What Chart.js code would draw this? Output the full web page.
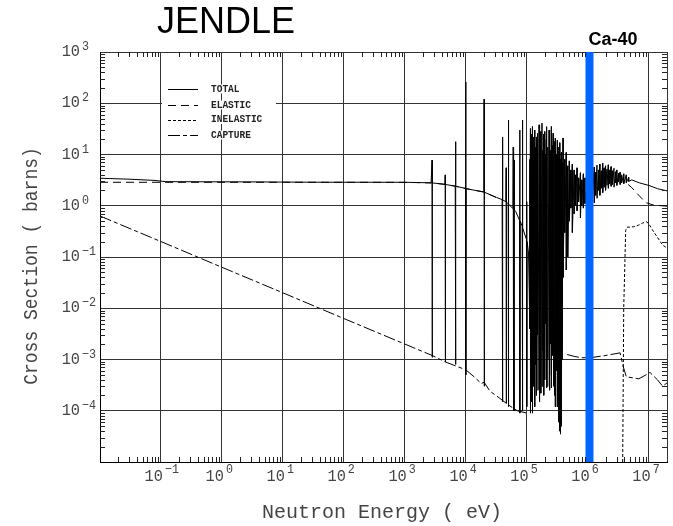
<!DOCTYPE html>
<html>
<head>
<meta charset="utf-8">
<script src="https://cdn.jsdelivr.net/npm/chart.js@4.4.1/dist/chart.umd.min.js"></script>
<style>
body { margin: 0; background: #fff; }
#wrap { width: 673px; height: 526px; }
</style>
</head>
<body>
<div id="wrap"><canvas id="chart-jendle" width="673" height="526"></canvas></div>
<script>
// series names (legend)
const seriesNames = ["TOTAL", "ELASTIC", "INELASTIC", "CAPTURE"];

// axis tick exponents (labels are 10^n)
const xTickExp = [-1, 0, 1, 2, 3, 4, 5, 6, 7];
const yTickExp = [3, 2, 1, 0, -1, -2, -3, -4];

// Ca-40 marker energy (eV)
const markerEnergy = [1.07e6];

// [energy eV, cross section barns]
const totalPts = [
	[0.01, 3.44], [0.03, 3.3], [0.08, 3.12], [0.12, 2.95], [3, 2.92], [30, 2.88], [1000, 2.87], [2700, 2.8],
	[2800, 7.8], [2812, 1.1e-3], [2840, 2.79],
	[4550, 2.62], [4600, 4.0], [4615, 9e-4], [4660, 2.6],
	[6720, 2.42], [6800, 17.8], [6825, 8e-4], [6880, 2.4],
	[9900, 2.18], [10000, 260], [10040, 5e-4], [10150, 2.15],
	[19800, 1.86], [20000, 120], [20080, 3e-4], [20300, 1.84],
	[32000, 1.45],
	[39500, 1.32], [40000, 22], [40150, 1.5e-4], [40600, 1.3],
	[45500, 1.2], [46000, 5.5], [46150, 1.4e-4], [46600, 1.17],
	[49600, 1.1], [50000, 47], [50200, 1.2e-4], [50700, 1.08],
	[59400, 0.88], [60000, 14], [60200, 1e-4], [60800, 0.87],
	[61600, 0.85], [62000, 7.8], [62200, 1e-4], [62700, 0.83],
	[66000, 0.77],
	[76300, 0.52], [77000, 30], [77300, 9e-5], [78000, 0.5],
	[84200, 0.4], [85000, 47], [85300, 1e-4], [86200, 0.37],
	[99000, 0.22], [100000, 1.2], [100300, 1.2e-4], [101500, 0.2],
	[107000, 0.12], [110000, 0.02],
	[112000, 8], [112300, 4e-3], [115000, 32], [115300, 9e-5],
	[118000, 12], [118300, 1e-3], [121000, 25], [121300, 1.5e-4],
	[124000, 35], [124300, 9e-5], [127000, 10], [127300, 2e-3],
	[131000, 22], [131300, 3e-4], [135000, 30], [135300, 1.2e-4],
	[139000, 14], [139300, 8e-4], [144000, 22], [144300, 2e-4],
	[148000, 9], [148300, 3e-3], [153000, 26], [153300, 2.5e-4],
	[159000, 38], [159300, 1.5e-4], [164000, 15], [164300, 6e-4],
	[170000, 28], [170300, 2.2e-4], [178000, 41], [178300, 3e-4],
	[183000, 12], [183300, 1.5e-3], [190000, 25], [190300, 2e-4],
	[197000, 28], [197300, 4e-4], [203000, 10], [203300, 5e-3],
	[209000, 20], [209300, 2.8e-4], [215000, 35], [215300, 3e-4],
	[222000, 14], [222300, 1e-3], [232000, 30], [232300, 2.5e-4],
	[240000, 18], [240300, 5e-4], [247000, 12], [247300, 2e-3],
	[254000, 35], [254300, 2.8e-4], [262000, 15], [262300, 1.2e-3],
	[270000, 26], [270300, 3e-4], [280000, 12], [280300, 8e-4],
	[288000, 18], [288300, 2e-4], [295000, 21], [295300, 1.2e-4],
	[305000, 10], [305300, 6e-4], [318000, 19], [318300, 1.2e-4],
	[328000, 9], [328300, 3e-4], [338000, 14], [338300, 6e-5],
	[348000, 17], [348300, 4e-5], [358000, 8], [358300, 3.5e-5],
	[370000, 11], [370300, 5e-5], [380000, 7], [380300, 1e-3],
	[395000, 21], [395500, 0.04], [420000, 8], [420500, 0.3],
	[445000, 11], [445500, 0.056], [470000, 6], [470500, 0.1],
	[500000, 7.5], [500500, 0.5], [530000, 5], [530500, 0.9],
	[560000, 6.5], [560500, 0.3], [600000, 5], [600500, 0.7],
	[630000, 4], [630500, 1.0], [670000, 5.5], [670500, 0.8],
	[710000, 3.5], [710500, 1.2], [760000, 4.4], [760500, 0.58],
	[800000, 3.2], [800500, 1.0], [850000, 4.2], [850500, 0.9],
	[900000, 3.5], [900500, 1.1], [1000000, 4], [1000500, 1.2],
	[1100000, 3.5], [1100500, 1.5], [1200000, 5], [1200500, 1.3],
	[1280000, 5.7], [1285000, 1.15], [1350000, 4.5], [1355000, 1.6],
	[1420000, 6.2], [1425000, 1.4], [1500000, 5], [1505000, 2.0],
	[1580000, 6.5], [1585000, 1.6], [1670000, 4.8], [1675000, 2.2],
	[1760000, 6.8], [1765000, 1.8], [1860000, 5.5], [1865000, 2.3],
	[1960000, 6], [1965000, 2.0], [2070000, 5.2], [2075000, 2.5],
	[2180000, 6.3], [2185000, 2.2], [2300000, 5], [2305000, 2.7],
	[2420000, 5.8], [2425000, 2.4], [2550000, 4.8], [2555000, 2.6],
	[2700000, 5.4], [2705000, 2.3], [2850000, 4.6], [2855000, 2.8],
	[3000000, 5], [3005000, 2.5], [3200000, 4.3], [3205000, 2.9],
	[3400000, 4.5], [3405000, 2.6], [3600000, 4.0], [3605000, 2.8],
	[3900000, 4.2], [3905000, 2.7], [4300000, 4.0], [4305000, 2.8],
	[4700000, 3.6], [4705000, 3.0],
	[5300000, 3.2], [7000000, 2.8], [10000000, 2.5], [14000000, 2.15], [20000000, 1.95]
];

const elasticPts = [
	[0.01, 2.87], [3, 2.87], [30, 2.87], [1000, 2.86], [2700, 2.79], [4550, 2.61], [6720, 2.41],
	[9900, 2.17], [19800, 1.85], [32000, 1.44], [null, null],
	[4600000, 2.6], [5200000, 2.3], [6900000, 1.6], [9000000, 1.15], [12000000, 1.03], [20000000, 0.98]
];

const inelasticPts = [
	[3750000, 1.0e-5], [3900000, 1e-2], [4200000, 0.33], [4400000, 0.38], [5700000, 0.39],
	[6900000, 0.42], [8000000, 0.46], [9100000, 0.49], [10000000, 0.45], [11500000, 0.34],
	[14000000, 0.24], [17000000, 0.17], [20000000, 0.15]
];

const capturePts = [
	[0.01, 0.63], [0.1, 0.2], [1, 0.063], [10, 0.02], [100, 6.3e-3], [1000, 2e-3], [2800, 1.2e-3],
	[4600, 9e-4], [6800, 7.5e-4], [10000, 6.3e-4], [14000, 4.5e-4], [18000, 3.4e-4], [20000, 3.6e-4],
	[25000, 2.4e-4], [35000, 1.8e-4], [50000, 1.3e-4], [70000, 1e-4], [100000, 9e-5], [null, null],
	[460000, 1.25e-3], [600000, 1.15e-3], [800000, 1.08e-3], [1200000, 1.1e-3], [2000000, 1.2e-3],
	[3400000, 1.35e-3], [3800000, 7.5e-4], [4300000, 4.6e-4], [6900000, 4.2e-4], [9000000, 5e-4],
	[10500000, 5.6e-4], [14000000, 4e-4], [17000000, 3e-4], [20000000, 3.5e-4]
];

function toXY(pts) {
	return pts.map(function(p) { return p[0] === null ? { x: NaN, y: null } : { x: p[0], y: p[1] }; });
}

const MONO = '"Liberation Mono", "DejaVu Sans Mono", monospace';
const SANS = '"Liberation Sans", Arial, sans-serif';

// draws text squeezed horizontally
function squeezeText(ctx, txt, x, y, sx, align) {
	ctx.save();
	ctx.translate(x, y);
	ctx.scale(sx, 1);
	ctx.textAlign = align;
	ctx.fillText(txt, 0, 0);
	ctx.restore();
}

function expText(n) {
	return n < 0 ? "\u2212" + (-n) : String(n);
}

const framePlugin = {
	id: "jendleFrame",
	afterDraw: function(chart) {
		const ctx = chart.ctx;
		const area = chart.chartArea;
		const xs = chart.scales.x;
		const ys = chart.scales.y;
		ctx.save();

		// minor ticks on all four sides
		ctx.strokeStyle = "#222";
		ctx.lineWidth = 1;
		ctx.beginPath();
		for (let d = -2; d <= 7; d++) {
			for (let m = 2; m <= 9; m++) {
				const v = m * Math.pow(10, d);
				if (v >= xs.max) break;
				const px = Math.round(xs.getPixelForValue(v)) + 0.5;
				ctx.moveTo(px, area.bottom); ctx.lineTo(px, area.bottom - 5);
				ctx.moveTo(px, area.top); ctx.lineTo(px, area.top + 5);
			}
		}
		for (let d = -5; d <= 2; d++) {
			for (let m = 2; m <= 9; m++) {
				const v = m * Math.pow(10, d);
				const py = Math.round(ys.getPixelForValue(v)) + 0.5;
				ctx.moveTo(area.left, py); ctx.lineTo(area.left + 5, py);
				ctx.moveTo(area.right, py); ctx.lineTo(area.right - 5, py);
			}
		}
		ctx.stroke();

		// tick labels
		ctx.fillStyle = "#444";
		ctx.textBaseline = "alphabetic";
		xTickExp.forEach(function(n) {
			const gx = xs.getPixelForValue(Math.pow(10, n));
			ctx.font = "17px " + MONO;
			squeezeText(ctx, "10", gx + 2, 481, 0.9, "right");
			ctx.font = "13px " + MONO;
			squeezeText(ctx, expText(n), gx + 4, 473, 0.9, "left");
		});
		yTickExp.forEach(function(n) {
			const gy = ys.getPixelForValue(Math.pow(10, n));
			ctx.font = "17px " + MONO;
			squeezeText(ctx, "10", 80, gy + 4, 0.9, "right");
			ctx.font = "13px " + MONO;
			squeezeText(ctx, expText(n), 82, gy - 2, 0.9, "left");
		});

		// axis titles
		ctx.font = "20px " + MONO;
		squeezeText(ctx, "Neutron Energy ( eV)", 382, 518, 1, "center");
		ctx.save();
		ctx.translate(37, 266);
		ctx.rotate(-Math.PI / 2);
		ctx.scale(0.9, 1);
		ctx.textAlign = "center";
		ctx.fillText("Cross Section ( barns)", 0, 0);
		ctx.restore();

		// title and nuclide
		ctx.fillStyle = "#000";
		ctx.font = "36px " + SANS;
		ctx.textAlign = "center";
		ctx.fillText("JENDLE", 226, 33);
		ctx.font = "bold 18px " + SANS;
		ctx.fillText("Ca-40", 613, 45);

		// legend inside the plot
		const rows = [89, 105, 119.5, 135];
		chart.data.datasets.forEach(function(ds, i) {
			if (i === 0) return;
			const ry = rows[i - 1];
			ctx.fillStyle = "#fff";
			ctx.fillRect(162, ry - 4.5, 114, 9);
			ctx.strokeStyle = "#000";
			ctx.lineWidth = 1;
			ctx.setLineDash(ds.borderDash || []);
			ctx.beginPath();
			ctx.moveTo(168, Math.round(ry) + 0.5);
			ctx.lineTo(198, Math.round(ry) + 0.5);
			ctx.stroke();
			ctx.setLineDash([]);
			ctx.fillStyle = "#222";
			ctx.font = "bold 10px " + MONO;
			ctx.textBaseline = "middle";
			squeezeText(ctx, ds.label, 211, ry, 0.95, "left");
			ctx.textBaseline = "alphabetic";
		});
		ctx.restore();
	}
};

function decadeTicks(lo, hi, extra) {
	return function(scale) {
		const t = [];
		for (let d = lo; d <= hi; d++) t.push({ value: Math.pow(10, d) });
		if (extra) t.push({ value: extra });
		scale.ticks = t;
	};
}

var ctxJ = document.getElementById("chart-jendle").getContext("2d");
new Chart(ctxJ, {
	type: "line",
	data: {
		datasets: [{
			label: "Ca-40",
			data: [{ x: markerEnergy[0], y: 1e-5 }, { x: markerEnergy[0], y: 1e3 }],
			borderColor: "#0064ff",
			borderWidth: 8,
			borderCapStyle: "butt",
			order: 0
		}, {
			label: seriesNames[0],
			data: toXY(totalPts),
			borderColor: "#000",
			borderWidth: 1,
			order: 1
		}, {
			label: seriesNames[1],
			data: toXY(elasticPts),
			borderColor: "#000",
			borderWidth: 1,
			borderDash: [8, 5],
			order: 1
		}, {
			label: seriesNames[2],
			data: toXY(inelasticPts),
			borderColor: "#000",
			borderWidth: 1,
			borderDash: [3, 2],
			order: 1
		}, {
			label: seriesNames[3],
			data: toXY(capturePts),
			borderColor: "#000",
			borderWidth: 1,
			borderDash: [12, 3, 4, 3],
			order: 1
		}]
	},
	options: {
		responsive: false,
		animation: false,
		spanGaps: false,
		layout: { padding: { left: 100, top: 52, right: 6, bottom: 64 } },
		elements: { point: { radius: 0 }, line: { tension: 0 } },
		plugins: {
			legend: { display: false },
			tooltip: { enabled: false }
		},
		scales: {
			x: {
				type: "logarithmic",
				min: 0.01,
				max: 2e7,
				afterBuildTicks: decadeTicks(-2, 7, 2e7),
				ticks: { display: false },
				grid: { color: "#333", lineWidth: 1, drawTicks: false },
				border: { color: "#000", width: 1 }
			},
			y: {
				type: "logarithmic",
				min: 1e-5,
				max: 1e3,
				afterBuildTicks: decadeTicks(-5, 3),
				ticks: { display: false },
				grid: { color: "#333", lineWidth: 1, drawTicks: false },
				border: { color: "#000", width: 1 }
			}
		}
	},
	plugins: [framePlugin]
});
</script>
</body>
</html>
